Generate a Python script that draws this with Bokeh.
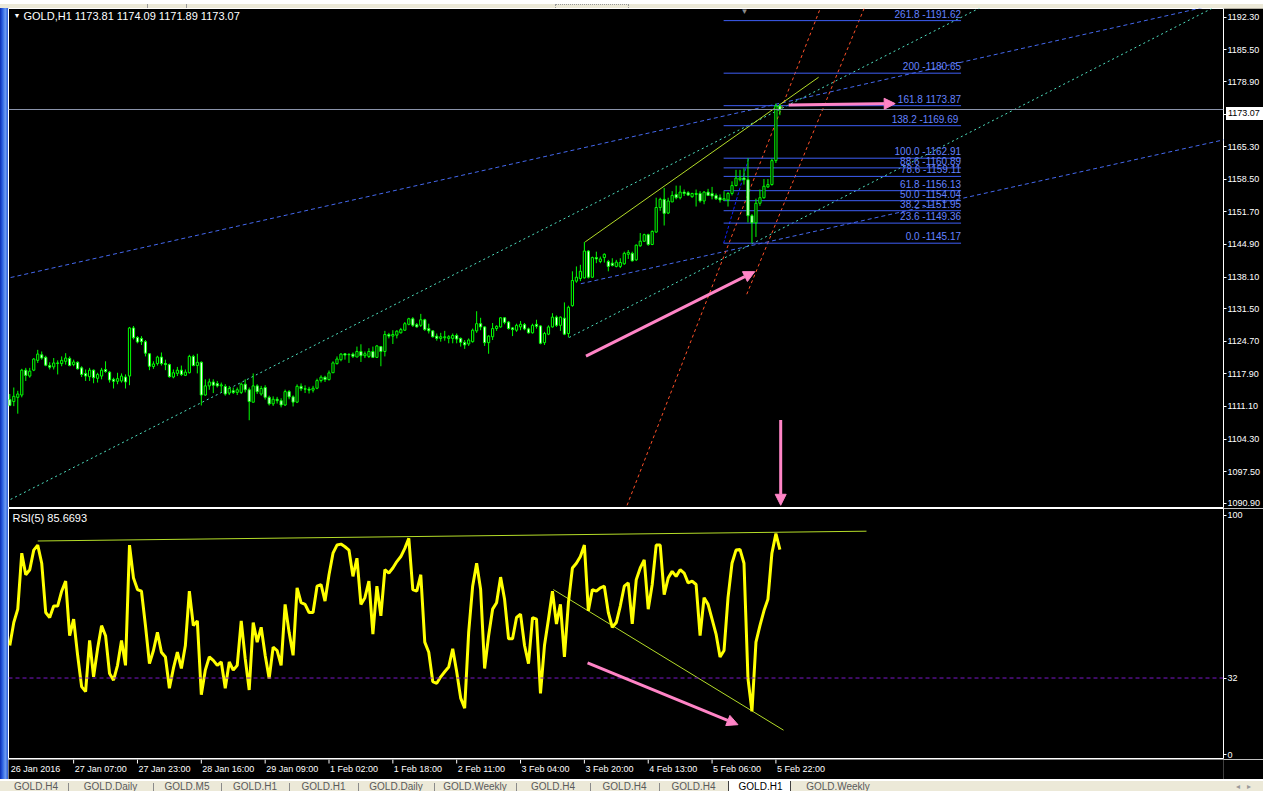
from bokeh.plotting import figure
from bokeh.layouts import column, row
from bokeh.models import (ColumnDataSource, Range1d, LinearAxis, FixedTicker,
                          PrintfTickFormatter, Label, Arrow, NormalHead, Div, Span)
from bokeh.embed import file_html
from bokeh.resources import INLINE
from bokeh.core.properties import value

# ---------------- data (GOLD, H1) ----------------
opens = [1112.53, 1112.12, 1113.00, 1113.48, 1118.67, 1117.44, 1118.67, 1120.72, 1121.88, 1121.34,
         1119.63, 1119.35, 1120.17, 1120.04, 1120.52, 1121.13, 1119.83, 1120.31, 1119.15, 1117.99,
         1117.31, 1118.67, 1116.97, 1117.44, 1118.81, 1118.26, 1116.76, 1116.35, 1116.42, 1117.24,
         1117.44, 1127.48, 1125.50, 1125.29, 1124.62, 1122.09, 1119.43, 1120.04, 1121.40, 1120.04,
         1119.83, 1117.24, 1118.00, 1118.67, 1117.58, 1118.13, 1121.54, 1119.63, 1120.31, 1113.48,
         1115.39, 1116.21, 1115.87, 1115.39, 1115.26, 1113.89, 1114.37, 1114.03, 1114.03, 1115.74,
         1114.58, 1111.98, 1115.39, 1113.69, 1115.05, 1113.00, 1111.64, 1112.60, 1112.30, 1111.40,
         1114.20, 1113.10, 1112.00, 1115.30, 1114.80, 1114.70, 1114.50, 1114.90, 1116.50, 1117.20,
         1116.70, 1118.13, 1120.04, 1120.86, 1122.09, 1121.95, 1122.02, 1121.41, 1122.57, 1121.68,
         1121.54, 1122.57, 1121.34, 1123.59, 1122.57, 1126.12, 1125.78, 1125.98, 1126.46, 1127.01,
         1128.24, 1129.40, 1128.17, 1128.03, 1129.19, 1127.35, 1126.87, 1125.78, 1125.30, 1125.44,
         1125.30, 1125.30, 1125.91, 1125.30, 1124.48, 1124.14, 1124.62, 1126.87, 1128.37, 1127.69,
         1124.41, 1125.64, 1127.35, 1127.69, 1129.60, 1128.71, 1127.49, 1127.01, 1127.69, 1128.17,
         1127.28, 1126.46, 1128.24, 1127.90, 1124.41, 1126.18, 1127.69, 1129.74, 1128.03, 1129.53,
         1126.32, 1132.13, 1137.25, 1137.80, 1137.93, 1143.53, 1138.07, 1142.17, 1141.35, 1142.17,
         1141.35, 1141.00, 1140.32, 1140.32, 1140.87, 1142.85, 1143.05, 1141.69, 1144.62, 1145.58,
         1146.95, 1144.90, 1147.49, 1152.62, 1154.32, 1151.46, 1153.78, 1155.35, 1154.66, 1155.83,
         1155.69, 1154.87, 1155.55, 1155.55, 1153.98, 1155.83, 1155.55, 1155.14, 1154.66, 1154.19,
         1154.19, 1155.55, 1157.19, 1158.42, 1158.76, 1158.42, 1150.91, 1149.41, 1153.50, 1154.66,
         1156.92, 1157.40, 1162.40, 1173.81]
highs = [1113.69, 1115.05, 1114.37, 1118.95, 1119.15, 1119.15, 1121.20, 1122.91, 1122.57, 1121.68,
         1120.31, 1121.20, 1120.72, 1121.54, 1122.22, 1121.54, 1120.86, 1120.52, 1119.49, 1118.81,
         1119.15, 1118.81, 1118.13, 1119.15, 1120.52, 1118.47, 1117.10, 1118.13, 1117.99, 1117.78,
         1127.69, 1127.89, 1125.77, 1125.77, 1124.96, 1122.22, 1120.52, 1121.68, 1122.36, 1120.86,
         1120.04, 1118.81, 1119.35, 1119.63, 1118.81, 1121.88, 1121.88, 1122.09, 1120.52, 1116.76,
         1116.90, 1116.76, 1116.42, 1116.08, 1115.74, 1115.39, 1115.05, 1115.05, 1116.08, 1116.76,
         1115.05, 1117.99, 1115.74, 1115.39, 1115.53, 1113.35, 1113.20, 1113.10, 1112.80, 1114.60,
         1114.50, 1113.40, 1115.70, 1115.90, 1115.50, 1115.20, 1115.40, 1116.90, 1117.60, 1117.50,
         1118.60, 1120.52, 1121.54, 1122.23, 1122.23, 1122.23, 1122.36, 1123.59, 1124.07, 1122.57,
         1123.25, 1123.59, 1123.93, 1123.73, 1126.87, 1126.46, 1127.01, 1127.01, 1127.49, 1128.71,
         1129.60, 1129.74, 1128.51, 1130.42, 1129.40, 1128.37, 1127.01, 1126.32, 1126.46, 1126.87,
         1125.98, 1126.32, 1126.32, 1125.50, 1124.96, 1125.30, 1127.35, 1130.97, 1129.60, 1127.83,
         1125.98, 1128.51, 1128.03, 1129.74, 1129.74, 1128.92, 1127.69, 1128.37, 1128.92, 1128.51,
         1127.55, 1128.37, 1129.19, 1128.03, 1126.67, 1128.03, 1130.56, 1130.08, 1129.87, 1132.81,
         1132.13, 1139.30, 1140.32, 1140.66, 1145.44, 1143.74, 1142.37, 1143.40, 1142.37, 1143.05,
         1141.69, 1142.03, 1141.69, 1142.03, 1143.40, 1143.74, 1143.40, 1144.90, 1147.29, 1147.15,
         1147.15, 1147.83, 1154.66, 1154.66, 1156.71, 1154.66, 1156.03, 1157.19, 1157.19, 1156.37,
         1156.03, 1155.69, 1156.37, 1156.03, 1156.03, 1156.51, 1156.92, 1155.55, 1155.35, 1156.03,
         1155.83, 1158.08, 1160.47, 1160.47, 1160.81, 1162.91, 1151.25, 1154.46, 1156.37, 1158.56,
         1158.56, 1162.80, 1174.30, 1174.09]
lows = [1111.16, 1111.16, 1109.59, 1113.00, 1116.42, 1117.10, 1118.47, 1120.17, 1120.86, 1119.49,
        1118.81, 1118.81, 1117.78, 1119.49, 1119.83, 1119.49, 1119.49, 1118.81, 1117.24, 1116.42,
        1116.42, 1115.94, 1116.08, 1116.76, 1118.13, 1116.08, 1114.85, 1115.74, 1116.08, 1114.85,
        1115.53, 1125.09, 1124.27, 1123.93, 1121.54, 1118.67, 1118.95, 1119.63, 1119.63, 1118.67,
        1117.10, 1116.97, 1117.44, 1117.44, 1117.44, 1118.00, 1119.49, 1118.00, 1111.30, 1113.35,
        1114.58, 1113.89, 1115.05, 1114.03, 1113.35, 1113.48, 1113.69, 1113.48, 1113.69, 1114.03,
        1108.22, 1111.98, 1113.69, 1113.35, 1112.53, 1111.30, 1111.20, 1111.70, 1110.90, 1111.20,
        1112.60, 1111.10, 1111.80, 1114.30, 1113.90, 1113.80, 1114.00, 1114.70, 1116.10, 1116.20,
        1116.50, 1118.13, 1119.83, 1120.52, 1120.86, 1120.18, 1121.20, 1121.41, 1120.38, 1121.20,
        1121.20, 1121.20, 1121.20, 1119.49, 1121.54, 1125.30, 1124.14, 1125.30, 1126.32, 1126.87,
        1128.03, 1127.69, 1127.55, 1127.69, 1126.87, 1126.32, 1125.50, 1124.82, 1124.62, 1124.82,
        1124.28, 1124.28, 1124.28, 1123.59, 1123.11, 1123.73, 1124.41, 1126.46, 1127.01, 1123.73,
        1122.09, 1124.96, 1126.87, 1127.55, 1128.24, 1127.14, 1125.78, 1126.67, 1127.01, 1127.01,
        1126.32, 1126.32, 1127.35, 1124.07, 1123.93, 1125.98, 1127.55, 1127.69, 1126.87, 1125.98,
        1125.50, 1131.92, 1136.91, 1137.25, 1137.80, 1137.80, 1137.93, 1141.00, 1141.00, 1141.14,
        1139.30, 1140.32, 1140.12, 1139.98, 1140.66, 1141.89, 1141.35, 1141.48, 1144.42, 1145.44,
        1144.62, 1144.76, 1147.36, 1151.93, 1148.86, 1151.25, 1153.78, 1154.32, 1154.32, 1155.01,
        1155.01, 1154.66, 1152.82, 1153.64, 1153.30, 1155.01, 1154.32, 1154.19, 1153.64, 1153.98,
        1152.82, 1155.14, 1157.05, 1158.08, 1157.40, 1149.50, 1145.17, 1146.47, 1152.96, 1154.46,
        1156.71, 1157.19, 1161.90, 1171.89]
closes = [1111.30, 1113.21, 1113.69, 1118.67, 1117.58, 1118.47, 1120.99, 1122.02, 1121.20, 1119.70,
          1119.29, 1120.17, 1120.10, 1120.72, 1121.20, 1119.63, 1120.38, 1118.95, 1117.78, 1117.44,
          1118.67, 1117.10, 1117.78, 1118.67, 1118.40, 1116.62, 1116.35, 1116.90, 1117.44, 1116.21,
          1127.48, 1125.43, 1124.55, 1124.62, 1122.22, 1119.49, 1119.97, 1121.40, 1120.04, 1119.83,
          1117.31, 1118.13, 1118.67, 1117.78, 1118.26, 1121.54, 1119.63, 1120.31, 1113.48, 1115.39,
          1116.21, 1115.53, 1115.39, 1115.60, 1113.69, 1114.85, 1114.03, 1114.58, 1115.74, 1114.58,
          1112.12, 1115.39, 1114.17, 1114.85, 1113.00, 1111.64, 1112.60, 1112.30, 1111.40, 1114.20,
          1113.10, 1112.00, 1115.30, 1114.80, 1114.70, 1114.50, 1114.90, 1116.50, 1117.20, 1116.70,
          1118.10, 1120.18, 1121.00, 1122.02, 1121.82, 1121.89, 1121.54, 1122.57, 1121.68, 1122.09,
          1122.57, 1121.34, 1123.73, 1122.57, 1126.12, 1125.78, 1126.12, 1126.80, 1127.14, 1128.37,
          1129.40, 1128.03, 1127.69, 1129.19, 1127.14, 1126.87, 1125.64, 1125.30, 1125.64, 1125.64,
          1125.64, 1125.91, 1125.16, 1124.48, 1123.93, 1124.96, 1127.01, 1128.37, 1127.69, 1124.41,
          1125.78, 1127.35, 1127.83, 1129.60, 1128.65, 1127.35, 1127.14, 1128.03, 1128.24, 1127.28,
          1126.46, 1128.03, 1127.83, 1124.28, 1126.32, 1127.69, 1129.74, 1128.03, 1129.74, 1126.18,
          1131.79, 1137.38, 1138.07, 1139.30, 1143.53, 1138.07, 1142.17, 1141.89, 1141.89, 1142.85,
          1140.32, 1140.53, 1141.21, 1141.14, 1143.05, 1143.26, 1141.48, 1144.76, 1145.58, 1146.95,
          1144.90, 1147.63, 1152.62, 1154.32, 1151.39, 1153.98, 1155.14, 1154.66, 1155.83, 1155.55,
          1155.21, 1155.55, 1155.35, 1153.98, 1155.83, 1155.14, 1155.01, 1154.46, 1154.19, 1154.46,
          1155.55, 1157.19, 1158.76, 1158.76, 1158.42, 1150.91, 1149.41, 1153.50, 1154.66, 1157.05,
          1157.40, 1162.40, 1173.80, 1173.07]
rsi5 = [45.6, 55.2, 60.8, 84.2, 75.2, 77.3, 85.5, 87.6, 80.0, 59.4,
        57.3, 62.1, 62.1, 68.3, 72.5, 49.7, 56.6, 41.5, 28.4, 26.3,
        47.7, 32.5, 44.2, 53.9, 49.7, 33.9, 31.1, 37.3, 47.7, 37.3,
        87.6, 73.8, 69.0, 68.3, 53.9, 38.0, 43.5, 51.1, 42.8, 40.8,
        27.7, 36.0, 42.8, 36.0, 45.6, 68.3, 53.9, 55.9, 25.0, 35.3,
        40.8, 39.4, 37.3, 38.7, 27.7, 38.7, 35.3, 37.3, 55.9, 40.1,
        27.0, 55.2, 47.0, 53.2, 41.5, 31.8, 44.9, 43.5, 37.3, 62.8,
        51.1, 41.5, 69.7, 63.5, 62.8, 59.4, 59.4, 70.4, 71.1, 64.2,
        75.2, 84.2, 87.6, 88.0, 86.9, 85.5, 74.5, 82.1, 62.8, 65.6,
        72.5, 50.4, 70.4, 58.0, 77.3, 75.9, 78.0, 80.7, 82.8, 86.2,
        90.4, 69.0, 68.3, 75.2, 47.0, 42.8, 30.5, 29.8, 32.5, 34.6,
        36.6, 44.2, 34.6, 23.6, 19.4, 51.1, 70.4, 80.0, 69.0, 36.0,
        49.7, 60.8, 63.5, 74.2, 64.9, 48.4, 48.4, 57.3, 58.7, 45.6,
        38.0, 57.3, 56.6, 25.6, 45.6, 56.6, 68.3, 54.6, 62.8, 40.8,
        63.5, 78.0, 80.0, 82.8, 87.6, 60.1, 69.0, 68.3, 69.7, 70.4,
        59.4, 53.2, 55.2, 62.1, 70.4, 71.8, 54.6, 73.1, 78.0, 81.4,
        60.8, 71.1, 87.6, 87.6, 66.9, 73.8, 76.6, 74.5, 77.3, 75.9,
        71.8, 72.5, 71.1, 49.7, 65.6, 62.8, 56.6, 50.4, 40.8, 43.5,
        65.6, 80.0, 85.5, 85.8, 80.0, 31.8, 18.1, 47.0, 53.9, 60.1,
        64.9, 84.2, 92.4, 85.6693]

time_tick_index = [0, 16, 32, 48, 64, 80, 96, 112, 128, 144, 160, 176, 192]
time_tick_labels = ["26 Jan 2016", "27 Jan 07:00", "27 Jan 23:00", "28 Jan 16:00", "29 Jan 09:00",
                    "1 Feb 02:00", "1 Feb 18:00", "2 Feb 11:00", "3 Feb 04:00", "3 Feb 20:00",
                    "4 Feb 13:00", "5 Feb 06:00", "5 Feb 22:00"]
price_ticks = [1090.90, 1097.50, 1104.30, 1111.10, 1117.90, 1124.70, 1131.50, 1138.10,
               1144.90, 1151.70, 1158.50, 1165.30, 1172.10, 1178.90, 1185.50, 1192.30]
rsi_ticks = [0, 32, 100]
rsi_level = 32

# Fibonacci object
fib_anchor_index = [178.9, 238.4]
fib_prices = [1145.17, 1149.36, 1151.95, 1154.04, 1156.13, 1159.11, 1160.89, 1162.91,
              1169.69, 1173.87, 1180.65, 1191.62]
fib_texts = ["0.0 -1145.17", "23.6 -1149.36", "38.2 -1151.95", "50.0 -1154.04", "61.8 -1156.13",
             "78.6 -1159.11", "88.6 -1160.89", "100.0 -1162.91", "138.2  -1169.69",
             "161.8 1173.87", "200 -1180.65", "261.8 -1191.62"]
fib_base_index = [178.9, 185.2]
fib_base_price = [1145.17, 1162.91]

# drawn trend lines (bar index, price)
blue_upper_index = [0.2, 299.0];   blue_upper_price = [1138.00, 1194.35]
blue_lower_index = [143.1, 307.2]; blue_lower_price = [1136.71, 1167.30]
cyan_upper_index = [0.2, 243.3];   cyan_upper_price = [1091.70, 1194.35]
cyan_lower_index = [140.2, 301.7]; cyan_lower_price = [1125.50, 1194.35]
red_left_index = [154.7, 203.2];   red_left_price = [1090.47, 1194.35]
red_right_index = [184.7, 214.2];  red_right_price = [1134.52, 1194.35]
yg_index = [144.2, 202.7];         yg_price = [1145.44, 1179.80]
arrow_up_index = [144.4, 186.7];   arrow_up_price = [1121.61, 1139.23]
arrow_right_index = [195.2, 221.9]; arrow_right_price = [1174.0, 1174.3]
arrow_down_index = [193.2, 193.2]; arrow_down_price = [1108.29, 1090.47]

# RSI drawn lines
rsi_top_index = [7.0, 214.7];   rsi_top_value = [89.3, 93.4]
rsi_down_index = [136.2, 193.9]; rsi_down_value = [69.0, 10.2]
rsi_arrow_index = [144.8, 182.5]; rsi_arrow_value = [38.3, 12.5]

tab_names = ["GOLD.H4", "GOLD.Daily", "GOLD.M5", "GOLD.H1", "GOLD.H1", "GOLD.Daily",
             "GOLD.Weekly", "GOLD.H4", "GOLD.H4", "GOLD.H4", "GOLD.H1", "GOLD.Weekly"]
active_tab = 10

# ---------------- layout / styling ----------------
TOTAL_W = 1263
EDGE = 8                 # window frame strip on the left / toolbar strip on top
W = TOTAL_W - EDGE       # chart width (frame + price scale)
RIGHT = 37
FRAME_W = W - RIGHT
PRICE_H, RSI_H, STRIP_H, TAB_H = 500, 251, 20, 11
Y_TOP, Y_BOT = 1194.15, 1089.80

CANDLE = "#00ff00"
FIB = "#3d5ef5"
FIB_TEXT = "#6482ff"
BLUE_DASH = "#4468ee"
CYAN_DASH = "#4fe0c0"
RED_DASH = "#ff5028"
YG = "#b4dc28"
PINK = "#ff84c6"
FONT = "Liberation Sans"

xr = Range1d(-0.325, -0.325 + FRAME_W / 4.0)


def base_fig(height, y_range, outline="white"):
    f = figure(width=W, height=height, x_range=xr, y_range=y_range,
               output_backend="svg", toolbar_location=None,
               background_fill_color="black", border_fill_color="black",
               outline_line_color=outline, min_border_left=0, min_border_right=RIGHT,
               min_border_top=0, min_border_bottom=0,
               x_axis_location=None, y_axis_location=None, margin=0)
    f.grid.visible = False
    return f


def style_axis(ax):
    ax.axis_line_color = None
    ax.major_tick_line_color = "white"
    ax.major_tick_in = 0
    ax.major_tick_out = 3
    ax.minor_tick_line_color = None
    ax.major_label_text_color = "white"
    ax.major_label_text_font = FONT
    ax.major_label_text_font_size = "9px"
    ax.major_label_standoff = 1


def add_arrow(fig, xs, ys):
    fig.add_layout(Arrow(end=NormalHead(size=11, fill_color=PINK, line_color=PINK, line_width=1),
                         x_start=xs[0], y_start=ys[0], x_end=xs[1], y_end=ys[1],
                         line_color=PINK, line_width=3))


# ---------------- price panel ----------------
p = base_fig(PRICE_H, Range1d(Y_BOT, Y_TOP))
pax = LinearAxis(ticker=FixedTicker(ticks=price_ticks), formatter=PrintfTickFormatter(format="%.2f"))
style_axis(pax)
p.add_layout(pax, "right")

p.line(blue_upper_index, blue_upper_price, line_color=BLUE_DASH, line_dash="4 3")
p.line(blue_lower_index, blue_lower_price, line_color=BLUE_DASH, line_dash="4 3")
p.line(cyan_upper_index, cyan_upper_price, line_color=CYAN_DASH, line_dash="2 3")
p.line(cyan_lower_index, cyan_lower_price, line_color=CYAN_DASH, line_dash="2 3")
p.line(red_left_index, red_left_price, line_color=RED_DASH, line_dash="3 3")
p.line(red_right_index, red_right_price, line_color=RED_DASH, line_dash="3 3")
p.line(yg_index, yg_price, line_color=YG, line_width=1)
p.line(fib_base_index, fib_base_price, line_color="#1020ff", line_dash="3 2")

nf = len(fib_prices)
p.segment(x0=[fib_anchor_index[0]] * nf, x1=[fib_anchor_index[1]] * nf,
          y0=fib_prices, y1=fib_prices, line_color=FIB, line_width=1)
p.text(x=[fib_anchor_index[1]] * nf, y=fib_prices, text=fib_texts, text_align="right",
       text_baseline="bottom", y_offset=-1, text_color=FIB_TEXT,
       text_font=value(FONT), text_font_size="10px")

p.add_layout(Span(location=closes[-1], dimension="width", line_color="#8a93aa", line_width=1))

idx = list(range(len(closes)))
src = ColumnDataSource(dict(
    x=idx, h=highs, l=lows,
    top=[max(o, c) for o, c in zip(opens, closes)],
    bot=[min(o, c) for o, c in zip(opens, closes)],
    fill=["black" if c >= o else "white" for o, c in zip(opens, closes)]))
p.segment(x0="x", y0="l", x1="x", y1="h", line_color=CANDLE, line_width=1, source=src)
p.vbar(x="x", width=0.55, top="top", bottom="bot", fill_color="fill",
       line_color=CANDLE, line_width=1, source=src)

add_arrow(p, arrow_up_index, arrow_up_price)
add_arrow(p, arrow_right_index, arrow_right_price)
add_arrow(p, arrow_down_index, arrow_down_price)

header = f"GOLD,H1  {opens[-1]:.2f} {highs[-1]:.2f} {lows[-1]:.2f} {closes[-1]:.2f}"
p.add_layout(Label(x=5, y=PRICE_H - 7, x_units="screen", y_units="screen", text="\u25bc",
                   text_color="white", text_font_size="7px", text_baseline="middle"))
p.add_layout(Label(x=15, y=PRICE_H - 7, x_units="screen", y_units="screen", text=header,
                   text_color="white", text_font=FONT, text_font_size="11px",
                   text_baseline="middle"))
p.add_layout(Label(x=732, y=PRICE_H - 3, x_units="screen", y_units="screen", text="\u25bc",
                   text_color="#8c8c8c", text_font_size="8px", text_baseline="middle"))

# ---------------- RSI panel ----------------
r = base_fig(RSI_H, Range1d(-2.07, 102.89))
rax = LinearAxis(ticker=FixedTicker(ticks=rsi_ticks))
style_axis(rax)
r.add_layout(rax, "right")
r.add_layout(Span(location=rsi_level, dimension="width", line_color="#7a18c8",
                  line_dash="4 3", line_width=1))
r.line(rsi_top_index, rsi_top_value, line_color=YG, line_width=1)
r.line(rsi_down_index, rsi_down_value, line_color=YG, line_width=1)
r.line(idx, rsi5, line_color="#ffff00", line_width=3)
add_arrow(r, rsi_arrow_index, rsi_arrow_value)
r.add_layout(Label(x=4, y=RSI_H - 9, x_units="screen", y_units="screen",
                   text=f"RSI(5) {rsi5[-1]:.4f}", text_color="white", text_font=FONT,
                   text_font_size="11px", text_baseline="middle"))

# ---------------- time strip ----------------
s = base_fig(STRIP_H, Range1d(0, STRIP_H), outline=None)
s.segment(x0=time_tick_index[1:], x1=time_tick_index[1:], y0=STRIP_H, y1=STRIP_H - 4,
          line_color="white")
s.text(x=time_tick_index, y=STRIP_H - 9, text=time_tick_labels, text_align="left",
       text_baseline="middle", x_offset=1, text_color="white",
       text_font=value(FONT), text_font_size="9px")

# ---------------- window chrome (toolbar strip, frame strip, tabs) ----------------
price_px = EDGE + (Y_TOP - closes[-1]) * PRICE_H / (Y_TOP - Y_BOT)
toolbar_html = (
    f'<div style="position:relative;width:{TOTAL_W}px;height:{EDGE}px;">'
    f'<div style="position:absolute;left:0;top:0;width:{TOTAL_W}px;height:{EDGE}px;'
    f'background:#ece9d8;border-bottom:1px solid #a0a0a0;box-sizing:border-box;"></div>'
    f'<div style="position:absolute;left:147px;top:0;width:1px;height:{EDGE}px;background:#9a9a9a;"></div>'
    f'<div style="position:absolute;left:186px;top:0;width:1px;height:{EDGE}px;background:#9a9a9a;"></div>'
    f'<div style="position:absolute;left:555px;top:0;width:74px;height:6px;'
    f'border:1px dotted #9a9a9a;box-sizing:border-box;"></div>'
    f'<div style="position:absolute;left:{EDGE + FRAME_W}px;top:{price_px - 6.5:.1f}px;'
    f'width:{RIGHT}px;height:13px;background:#ffffff;color:#000000;z-index:20;'
    f'font-family:\'{FONT}\';font-size:9px;line-height:13px;padding-left:2px;'
    f'box-sizing:border-box;">{closes[-1]:.2f}</div>'
    f'</div>')
toolbar = Div(text=toolbar_html, width=TOTAL_W, height=EDGE, margin=0)

frame_strip = Div(text="", width=EDGE, height=PRICE_H + RSI_H + STRIP_H, margin=0,
                  styles={"background": "linear-gradient(to right, #0a2cb4, #2f64e2, #6b9bf3, #2a5bd8)"})

tab_edges = [4, 68, 153, 221, 289, 358, 434, 516, 590, 659, 728, 793, 883]
parts = []
for i, name in enumerate(tab_names):
    left, right = tab_edges[i], tab_edges[i + 1]
    if i == active_tab:
        parts.append(f'<div style="position:absolute;left:{left}px;top:0;width:{right-left-2}px;'
                     f'height:{TAB_H}px;background:#ffffff;border-left:1px solid #404040;'
                     f'border-right:1px solid #404040;"></div>')
        color = "#000000"
    else:
        color = "#5a5a5a"
        if i + 1 != active_tab and i != len(tab_names) - 1:
            parts.append(f'<div style="position:absolute;left:{right}px;top:2px;width:1px;'
                         f'height:{TAB_H}px;background:#8a8a8a;"></div>')
    parts.append(f'<div style="position:absolute;left:{left}px;top:0px;width:{right-left}px;'
                 f'text-align:center;color:{color};line-height:{TAB_H}px;">{name}</div>')
parts.append('<div style="position:absolute;left:1236px;top:0px;color:#9a9a9a;font-size:8px;'
             f'line-height:{TAB_H}px;">\u25c2&nbsp;&nbsp;&nbsp;\u25b8</div>')
tab_html = (f'<div style="position:relative;width:{TOTAL_W}px;height:{TAB_H}px;overflow:hidden;'
            f'background:#ece9d8;border-top:1px solid #ffffff;box-sizing:border-box;'
            f'font-family:\'{FONT}\';font-size:10px;">' + "".join(parts) + '</div>')
tabs = Div(text=tab_html, width=TOTAL_W, height=TAB_H, margin=0)

layout = column(toolbar, row(frame_strip, column(p, r, s, spacing=0, margin=0), spacing=0, margin=0),
                tabs, spacing=0, margin=0)
open("out.html", "w").write(file_html(layout, INLINE))
